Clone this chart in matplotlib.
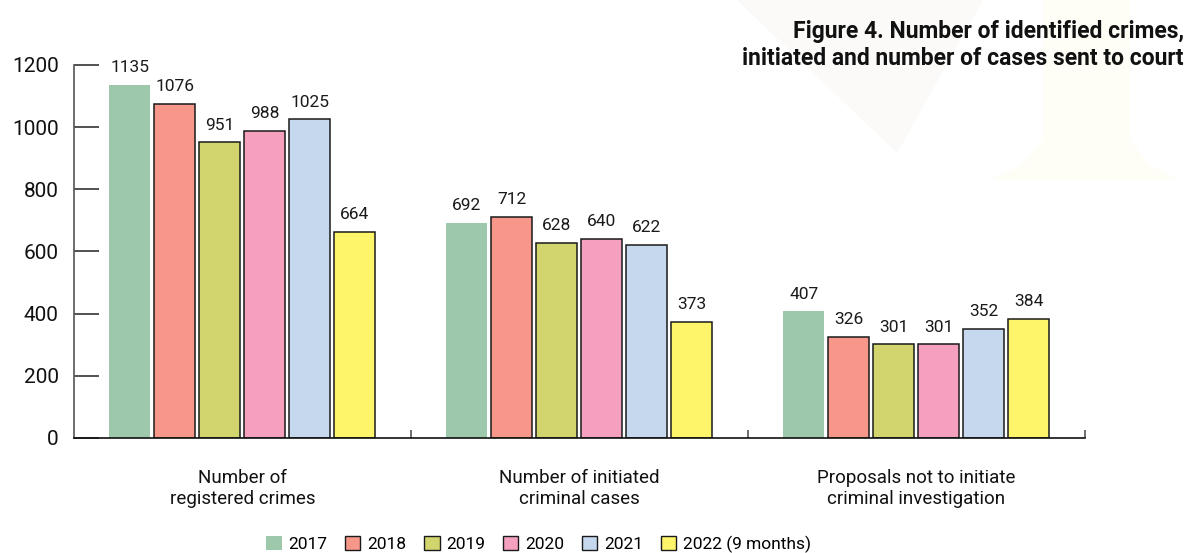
import matplotlib
matplotlib.use('Agg')
import matplotlib.pyplot as plt
from matplotlib.patches import Polygon, Patch
import numpy as np

categories = ['Number of\nregistered crimes', 'Number of initiated\ncriminal cases',
              'Proposals not to initiate\ncriminal investigation']
years = ['2017', '2018', '2019', '2020', '2021', '2022 (9 months)']
v2017 = [1135, 692, 407]
v2018 = [1076, 712, 326]
v2019 = [951, 628, 301]
v2020 = [988, 640, 301]
v2021 = [1025, 622, 352]
v2022 = [664, 373, 384]
series = [v2017, v2018, v2019, v2020, v2021, v2022]
colors = ['#9dc8ac', '#f7978a', '#d2d56e', '#f4a0be', '#c5d8ee', '#fff56a']
yticks = [0, 200, 400, 600, 800, 1000, 1200]

plt.rcParams['font.family'] = ['Roboto', 'DejaVu Sans']

fig = plt.figure(figsize=(11.89, 5.53), dpi=100)
W, H = 1189, 553


def fpt(px, py):
    return (px / W, 1 - py / H)


# faint watermark shapes in background
fig.patches.append(Polygon([fpt(737, 0), fpt(983, 0), fpt(897, 153)], closed=True,
                           transform=fig.transFigure, facecolor='#fbfaf9', edgecolor='none', zorder=0))
fig.patches.append(Polygon([fpt(1043, 0), fpt(1130, 0), fpt(1130, 140), fpt(1150, 165), fpt(1178, 180),
                            fpt(992, 180), fpt(1022, 165), fpt(1043, 140)], closed=True,
                           transform=fig.transFigure, facecolor='#fefdf6', edgecolor='none', zorder=0))

ax = fig.add_axes([0.0622, 0.208, 0.8503, 0.6745])
ax.patch.set_alpha(0)

x = np.arange(len(categories)) + 0.5
slot = 0.1335
bw = 0.1217
for j, (vals, c) in enumerate(zip(series, colors)):
    pos = x + (j - 2.5) * slot
    if j == 0:
        ax.bar(pos, vals, bw, color=c, edgecolor='none', zorder=2)
    else:
        ax.bar(pos, vals, bw, color=c, edgecolor='#1a1a1a', linewidth=1.1, zorder=2)
    for p, v in zip(pos, vals):
        ax.annotate(str(v), (p, v), xytext=(0, 7), textcoords='offset points',
                    ha='center', va='bottom', fontsize=12.5, color='#1a1a1a')

ax.set_xlim(0, 3)
ax.set_ylim(0, 1200)
ax.set_yticks(yticks)
ax.tick_params(axis='y', direction='in', length=18, width=1.2, pad=11,
               labelsize=15, colors='#333333', labelcolor='#111111')
ax.set_xticks(x)
ax.set_xticklabels(categories, fontsize=13.5, color='#111111', linespacing=1.25)
ax.tick_params(axis='x', length=0, pad=22)
ax.set_xticks([1, 2, 3], minor=True)
ax.tick_params(axis='x', which='minor', direction='in', length=6, width=1.2, colors='#555555')

for s in ['top', 'right']:
    ax.spines[s].set_visible(False)
ax.spines['left'].set_color('#555555')
ax.spines['left'].set_linewidth(1.2)
ax.spines['bottom'].set_color('#111111')
ax.spines['bottom'].set_linewidth(1.2)

fig.text(0.9955, 0.919, 'Figure 4. Number of identified crimes,\ninitiated and number of cases sent to court',
         ha='right', va='center', fontsize=16.5, fontweight='bold', color='#111111', linespacing=1.25)

handles = []
for j, (y, c) in enumerate(zip(years, colors)):
    handles.append(Patch(facecolor=c, edgecolor='none' if j == 0 else '#1a1a1a',
                         linewidth=1.0, label=y))
fig.legend(handles=handles, loc='center', bbox_to_anchor=(0.453, 0.016), ncol=6, frameon=False,
           fontsize=12.5, handlelength=0.9, handleheight=0.9, handletextpad=0.4,
           columnspacing=1.0, borderpad=0)

fig.savefig('out.png', dpi=100)
